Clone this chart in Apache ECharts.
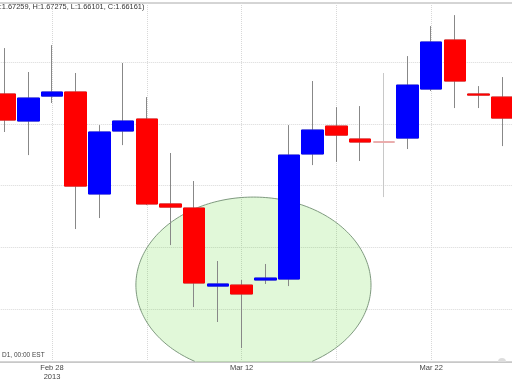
<!DOCTYPE html>
<html><head><meta charset="utf-8">
<script src="https://cdn.jsdelivr.net/npm/echarts@6/dist/echarts.min.js"></script>
<style>html,body{margin:0;padding:0;background:#fff;overflow:hidden}#c{width:512px;height:379px}</style>
</head><body><div id="c"></div>
<script>
// ---- data ----
const dates = ['Feb 26','Feb 27','Feb 28','Mar 1','Mar 4','Mar 5','Mar 6','Mar 7','Mar 8','Mar 11','Mar 12','Mar 13','Mar 14','Mar 15','Mar 18','Mar 19','Mar 20','Mar 21','Mar 22','Mar 25','Mar 26','Mar 27'];
const opens  = [1.68742,1.68523,1.68725,1.68758,1.67932,1.68442,1.68539,1.67851,1.67818,1.67186,1.67194,1.67235,1.67243,1.68256,1.68482,1.68377,1.68353,1.68385,1.68782,1.69179,1.68742,1.68717];
const closes = [1.68531,1.68709,1.68758,1.67996,1.68434,1.68523,1.67851,1.67826,1.67211,1.67203,1.67122,1.67251,1.68247,1.68450,1.68409,1.68353,1.68353,1.68814,1.69163,1.68847,1.68733,1.68547];
const lows   = [1.68434,1.68247,1.68669,1.67648,1.67737,1.68328,1.67842,1.67518,1.67016,1.66895,1.66684,1.67203,1.67186,1.68166,1.68191,1.68199,1.67907,1.68296,1.68766,1.68628,1.68628,1.68320];
const highs  = [1.69114,1.68920,1.69138,1.68912,1.68490,1.68993,1.68717,1.68264,1.68037,1.67389,1.67235,1.67365,1.68490,1.68847,1.68636,1.68644,1.68912,1.69049,1.69292,1.69381,1.68806,1.68879];
const tickLabelIndex = [2, 10, 18];
const tickLabels = ['Feb 28\n2013', 'Mar 12', 'Mar 22'];
const gridValues = [1.670, 1.675, 1.680, 1.685, 1.690];
const priceMin = 1.66571, priceMax = 1.69479;
const ellipseCenter = [10.5, 1.67194];
const ellipseRadius = [4.96, 0.00713];
const headerText = 'O:1.67259, H:1.67275, L:1.66101, C:1.66161)';
const footerText = 'D1, 00:00 EST';

// ---- build ----
const wickData = dates.map((d, i) => [opens[i], closes[i], lows[i], highs[i]]);
const bodyData = dates.map((d, i) => [opens[i], closes[i], Math.min(opens[i], closes[i]), Math.max(opens[i], closes[i])]);

const chart = echarts.init(document.getElementById('c'), null, {renderer: 'canvas'});
chart.setOption({
  animation: false,
  backgroundColor: '#fff',
  grid: {left: -7.25, right: -2.15, top: 3, bottom: 17, outerBoundsMode: 'none', containLabel: false,
         show: true, borderColor: '#aaa', borderWidth: 1, backgroundColor: 'transparent'},
  xAxis: {
    type: 'category', data: dates, boundaryGap: true,
    axisLine: {lineStyle: {color: '#c8c8c8'}},
    axisTick: {show: false},
    axisLabel: {
      interval: (i) => tickLabelIndex.includes(i),
      formatter: (v, i) => { const k = tickLabelIndex.indexOf(i); return k >= 0 ? tickLabels[k] : ''; },
      fontSize: 7.5, lineHeight: 9, color: '#444', margin: 1, fontFamily: 'Liberation Sans'
    },
    splitLine: {show: true, alignWithLabel: true, interval: (i) => i % 4 === 2, lineStyle: {color: '#d8d8d8', type: 'dotted'}}
  },
  yAxis: {
    type: 'value', min: priceMin, max: priceMax, scale: true,
    axisLine: {show: false}, axisLabel: {show: false},
    axisTick: {show: false, customValues: gridValues},
    splitLine: {show: true, customValues: gridValues, lineStyle: {color: '#d8d8d8', type: 'dotted'}}
  },
  series: [
    {
      type: 'candlestick', data: wickData, barWidth: 22,
      itemStyle: {color: '#fff', color0: '#fff', borderColor: '#888', borderColor0: '#888', borderColorDoji: '#c8c8c8', borderWidth: 1},
      emphasis: {disabled: true}
    },
    {
      type: 'candlestick', data: bodyData, barWidth: 22,
      itemStyle: {color: '#0000ff', color0: '#ff0000', borderColor: '#0000ff', borderColor0: '#ff0000', borderColorDoji: '#f2a0a0', borderWidth: 1},
      emphasis: {disabled: true}
    },
    {
      type: 'custom', clip: true, silent: true,
      data: [[Math.floor(ellipseCenter[0]), ellipseCenter[1]]],
      renderItem: (params, api) => {
        const i0 = Math.floor(ellipseCenter[0]);
        const c0 = api.coord([i0, ellipseCenter[1]]);
        const c1 = api.coord([i0 + 1, ellipseCenter[1]]);
        const band = c1[0] - c0[0];
        const cx = c0[0] + (ellipseCenter[0] - i0) * band;
        const cy = c0[1];
        const rx = ellipseRadius[0] * band;
        const ry = cy - api.coord([i0, ellipseCenter[1] + ellipseRadius[1]])[1];
        const bottom = params.coordSys.y + params.coordSys.height;
        const fillPts = [], arcPts = [];
        const n = 240;
        for (let k = 0; k <= n; k++) {
          const t = Math.PI / 2 + 2 * Math.PI * k / n;
          const x = cx + rx * Math.cos(t), y = cy + ry * Math.sin(t);
          fillPts.push([x, Math.min(y, bottom)]);
          if (y <= bottom) arcPts.push([x, y]);
        }
        return {
          type: 'group',
          children: [
            {type: 'polygon', shape: {points: fillPts}, style: {fill: 'rgba(52,209,0,0.15)', stroke: null}},
            {type: 'polyline', shape: {points: arcPts}, style: {fill: null, stroke: '#7f9a7f', lineWidth: 1}}
          ]
        };
      }
    }
  ],
  graphic: [
    {type: 'text', x: -6, y: 3, style: {text: headerText, font: '7.4px "Liberation Sans"', fill: '#333'}},
    {type: 'text', x: 2, y: 352, style: {text: footerText, font: '6.5px "Liberation Sans"', fill: '#444'}},
    {type: 'sector', shape: {cx: 502, cy: 362, r: 4, startAngle: Math.PI, endAngle: 2 * Math.PI}, style: {fill: '#ddd'}}
  ]
});
</script>
</body></html>
